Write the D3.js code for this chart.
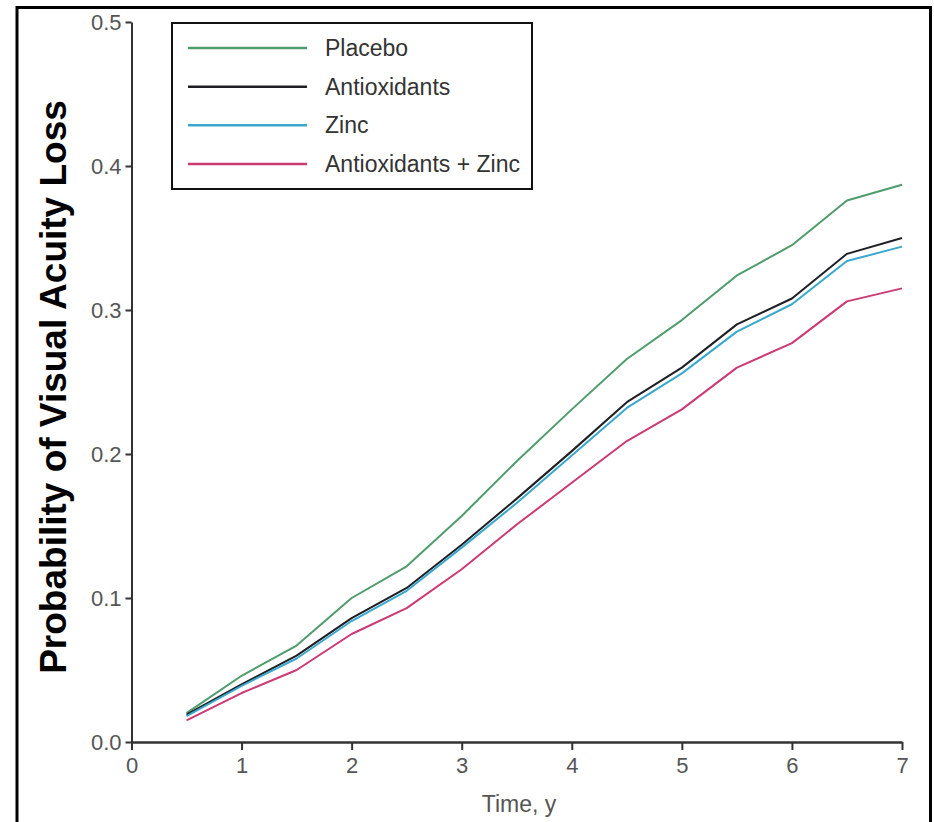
<!DOCTYPE html>
<html>
<head>
<meta charset="utf-8">
<script src="https://cdn.jsdelivr.net/npm/d3@7"></script>
<style>
  html, body { margin: 0; padding: 0; background: #fff; }
  svg { display: block; }
  .tick text { font-family: "Liberation Sans", Arial, sans-serif; fill: #555; }
</style>
</head>
<body>
<svg id="chart" width="934" height="822"></svg>
<script>
// Follow-up time in years
const years = [0.5, 1, 1.5, 2, 2.5, 3, 3.5, 4, 4.5, 5, 5.5, 6, 6.5, 7];

// Cumulative probability of visual acuity loss per treatment group
const placebo      = [0.020, 0.046, 0.067, 0.100, 0.122, 0.157, 0.195, 0.231, 0.266, 0.293, 0.324, 0.345, 0.376, 0.387];
const antioxidants = [0.019, 0.040, 0.060, 0.086, 0.107, 0.137, 0.169, 0.202, 0.236, 0.260, 0.290, 0.308, 0.339, 0.350];
const zinc         = [0.018, 0.039, 0.058, 0.084, 0.105, 0.135, 0.166, 0.199, 0.232, 0.256, 0.285, 0.304, 0.334, 0.344];
const antioxZinc   = [0.015, 0.034, 0.050, 0.075, 0.093, 0.120, 0.151, 0.180, 0.209, 0.231, 0.260, 0.277, 0.306, 0.315];

const seriesNames  = ["Placebo", "Antioxidants", "Zinc", "Antioxidants + Zinc"];
const seriesColors = ["#4f9c6c", "#1e1e24", "#3aa8cc", "#cc3a74"];
const seriesValues = [placebo, antioxidants, zinc, antioxZinc];

const xTicks = [0, 1, 2, 3, 4, 5, 6, 7];
const yTicks = [0.0, 0.1, 0.2, 0.3, 0.4, 0.5];

const labelFont = "'Liberation Sans', Arial, sans-serif";
const svg = d3.select("#chart");

// Outer frame
svg.append("rect")
  .attr("x", 17).attr("y", 7.5)
  .attr("width", 913.5).attr("height", 830)
  .attr("fill", "none").attr("stroke", "#000").attr("stroke-width", 3);

const x = d3.scaleLinear().domain([0, 7]).range([131.5, 902]);
const y = d3.scaleLinear().domain([0, 0.5]).range([742, 22]);

// Axes
const xAxis = svg.append("g")
  .attr("transform", `translate(0,${y(0)})`)
  .call(d3.axisBottom(x).tickValues(xTicks).tickFormat(d3.format("d")).tickSize(8).tickPadding(7).tickSizeOuter(0));
xAxis.select(".domain").attr("stroke", "#333").attr("stroke-width", 2.5);
xAxis.selectAll(".tick line").attr("stroke", "#333").attr("stroke-width", 2);
xAxis.selectAll(".tick text").attr("font-size", 22).attr("dy", "0.72em");

const yAxis = svg.append("g")
  .attr("transform", `translate(${x(0)},0)`)
  .call(d3.axisLeft(y).tickValues(yTicks).tickFormat(d3.format(".1f")).tickSize(6).tickPadding(4).tickSizeOuter(0));
yAxis.select(".domain").attr("stroke", "#333").attr("stroke-width", 2);
yAxis.selectAll(".tick line").attr("stroke", "#333").attr("stroke-width", 2);
yAxis.selectAll(".tick text").attr("font-size", 22);

// Axis titles
svg.append("text")
  .attr("x", 519).attr("y", 812)
  .attr("text-anchor", "middle")
  .attr("font-family", labelFont)
  .attr("font-size", 23).attr("fill", "#555")
  .text("Time, y");

svg.append("text")
  .attr("transform", "translate(66,387) rotate(-90)")
  .attr("text-anchor", "middle")
  .attr("font-family", labelFont)
  .attr("font-weight", "bold")
  .attr("font-size", 37).attr("fill", "#000")
  .text("Probability of Visual Acuity Loss");

// Cumulative loss curves
const line = d3.line()
  .x((d, i) => x(years[i]))
  .y(d => y(d));

svg.append("g").selectAll("path")
  .data(seriesValues)
  .join("path")
  .attr("d", d => line(d))
  .attr("fill", "none")
  .attr("stroke", (d, i) => seriesColors[i])
  .attr("stroke-width", 2)
  .attr("stroke-linejoin", "round");

// Legend
const legend = svg.append("g");
legend.append("rect")
  .attr("x", 172).attr("y", 23)
  .attr("width", 360).attr("height", 166)
  .attr("fill", "#fff").attr("stroke", "#111").attr("stroke-width", 2);

const rowY = d3.scalePoint().domain(seriesNames).range([48, 164]);
const rows = legend.selectAll("g.row")
  .data(seriesNames)
  .join("g")
  .attr("class", "row")
  .attr("transform", d => `translate(0,${rowY(d)})`);
rows.append("line")
  .attr("x1", 188).attr("x2", 307)
  .attr("stroke", (d, i) => seriesColors[i])
  .attr("stroke-width", 2.5);
rows.append("text")
  .attr("x", 325).attr("dy", "0.35em")
  .attr("font-family", labelFont)
  .attr("font-size", 23)
  .attr("fill", "#333")
  .text(d => d);
</script>
</body>
</html>
